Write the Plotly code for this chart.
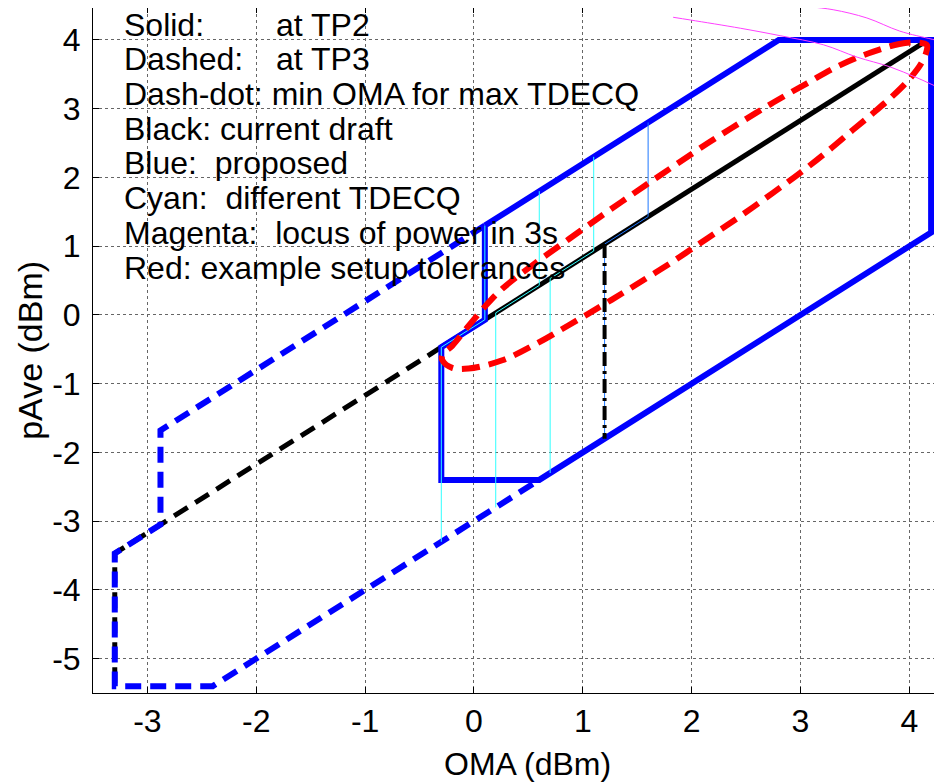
import plotly.graph_objects as go

# ---------------- data ----------------
x_ticks = [-3, -2, -1, 0, 1, 2, 3, 4]
y_ticks = [-5, -4, -3, -2, -1, 0, 1, 2, 3, 4]

# Blue solid (proposed, TP2)
blue_solid_x = [0.1, 2.8, 4.2, 4.2, 0.6, -0.3, -0.3, 0.1, 0.1]
blue_solid_y = [1.3, 4.0, 4.0, 1.2, -2.4, -2.4, -0.47, -0.07, 1.3]

# Blue dashed (proposed, TP3)
blue_dash_x = [0.1, -2.88, -2.88, -3.3, -3.3, -2.4, 0.6]
blue_dash_y = [1.3, -1.68, -3.05, -3.47, -5.4, -5.4, -2.4]

# Black solid (current draft, TP2)
black_solid_x = [-0.3, 4.15]
black_solid_y = [-0.47, 3.98]

# Black dashed (current draft, TP3)
black_dash_x = [-0.3, -3.3, -3.3]
black_dash_y = [-0.47, -3.47, -5.4]

# Black dash-dot (min OMA for max TDECQ)
black_dd_x = [1.2, 1.2]
black_dd_y = [1.03, -1.8]

# Cyan: different TDECQ
cyan1_x = [0.1, 0.1, -0.3, -0.3]
cyan1_y = [1.3, -0.07, -0.47, -3.3]
cyan2_x = [0.6, 0.6, 0.2, 0.2]
cyan2_y = [1.8, 0.43, 0.03, -2.8]
cyan3_x = [1.1, 1.1, 0.7, 0.7]
cyan3_y = [2.3, 0.93, 0.53, -2.3]
ltblue_x = [1.6, 1.6, 1.2, 1.2]
ltblue_y = [2.8, 1.43, 1.03, -1.8]

# Red: example setup tolerances (closed contour)
red_x = [4.16, 3.98, 3.67, 3.36, 3.06, 2.75, 2.45, 2.15, 1.84, 1.57, 1.17, 0.87,
         0.56, 0.26, 0.10, -0.05, -0.20, -0.29, -0.29, -0.20, -0.05, 0.26, 0.56,
         0.87, 1.17, 1.47, 1.84, 2.15, 2.45, 2.75, 3.00, 3.24, 3.48, 3.67, 3.85,
         4.00, 4.11, 4.16, 4.16]
red_y = [3.93, 3.96, 3.83, 3.63, 3.37, 3.09, 2.80, 2.50, 2.17, 1.88, 1.44, 1.10,
         0.75, 0.38, 0.12, -0.16, -0.45, -0.58, -0.66, -0.77, -0.78, -0.66, -0.43,
         -0.15, 0.13, 0.42, 0.79, 1.12, 1.44, 1.78, 2.07, 2.37, 2.69, 2.94, 3.19,
         3.43, 3.66, 3.85, 3.93]

# Magenta: locus of power in 3s
mag1_x = [1.83, 1.99, 2.45, 2.82, 3.21, 3.52, 3.82, 4.07, 4.28, 4.40]
mag1_y = [4.33, 4.29, 4.17, 4.06, 3.93, 3.75, 3.61, 3.45, 3.30, 3.22]
mag2_x = [3.04, 3.30, 3.61, 3.91, 4.21, 4.32]
mag2_y = [4.49, 4.44, 4.32, 4.13, 4.01, 3.97]

legend_lines = ["Solid:", "Dashed:", "Dash-dot: min OMA for max TDECQ",
                "Black: current draft", "Blue:  proposed", "Cyan:  different TDECQ",
                "Magenta:  locus of power in 3s", "Red: example setup tolerances"]
legend_suffix = ["at TP2", "at TP3"]
legend_y = [4.225, 3.72, 3.215, 2.71, 2.205, 1.70, 1.195, 0.69]

x_title = "OMA (dBm)"
y_title = "pAve (dBm)"

# ---------------- figure ----------------
fig = go.Figure()

def add(x, y, color, width, dash="solid", shape="linear"):
    fig.add_trace(go.Scatter(x=x, y=y, mode="lines", showlegend=False,
                             line=dict(color=color, width=width, dash=dash, shape=shape),
                             hoverinfo="skip"))

add(black_dash_x, black_dash_y, "black", 5, "16px,9px")
add(blue_dash_x, blue_dash_y, "#0000ff", 6, "16px,9px")
add(black_solid_x, black_solid_y, "black", 5)
add(blue_solid_x, blue_solid_y, "#0000ff", 6)
add(ltblue_x, ltblue_y, "#1e78ff", 1)
add(cyan1_x, cyan1_y, "#30ffff", 1)
add(cyan2_x, cyan2_y, "#30ffff", 1)
add(cyan3_x, cyan3_y, "#30ffff", 1)
add(black_dd_x, black_dd_y, "black", 4, "14px,5px,3px,5px")
add(red_x, red_y, "#ff0000", 6, "18px,9px", "spline")
add(mag1_x, mag1_y, "#ff40ff", 1, shape="spline")
add(mag2_x, mag2_y, "#ff40ff", 1, shape="spline")
# empty trace so the top (mirrored) tick axis is drawn
fig.add_trace(go.Scatter(x=[], y=[], xaxis="x2", yaxis="y", mode="lines",
                         showlegend=False, hoverinfo="skip"))

font_family = "Liberation Sans, Arial, sans-serif"
annotations = []
for txt, yy in zip(legend_lines, legend_y):
    annotations.append(dict(x=-3.22, y=yy, xref="x", yref="y", text=txt,
                            showarrow=False, xanchor="left", yanchor="middle", borderpad=0,
                            font=dict(size=32, color="black", family=font_family)))
for txt, yy in zip(legend_suffix, legend_y[:2]):
    annotations.append(dict(x=-1.83, y=yy, xref="x", yref="y", text=txt,
                            showarrow=False, xanchor="left", yanchor="middle", borderpad=0,
                            font=dict(size=32, color="black", family=font_family)))
# axis titles
annotations.append(dict(x=0.512, y=-0.104, xref="paper", yref="paper", text=x_title,
                        showarrow=False, xanchor="center", yanchor="middle", borderpad=0,
                        font=dict(size=32, color="black", family=font_family)))
annotations.append(dict(x=-0.075, y=0.50, xref="paper", yref="paper", text=y_title,
                        showarrow=False, xanchor="center", yanchor="middle", textangle=-90,
                        borderpad=0,
                        font=dict(size=34, color="black", family=font_family)))

axis_common = dict(showgrid=True, gridcolor="#666666", griddash="dot", gridwidth=1,
                   zeroline=False, showline=True, linecolor="black", linewidth=1,
                   ticks="inside", ticklen=6, tickcolor="black", automargin=False,
                   tickfont=dict(size=32, color="black", family=font_family))

fig.update_layout(
    width=934, height=776,
    margin=dict(l=85, r=0, t=0, b=91, autoexpand=False),
    paper_bgcolor="white", plot_bgcolor="white",
    font=dict(family=font_family, color="black"),
    xaxis=dict(range=[-3.5, 4.3], tickvals=x_ticks, ticktext=[str(v) for v in x_ticks],
               ticklabelstandoff=0, **axis_common),
    yaxis=dict(range=[-5.5, 4.465], tickvals=y_ticks, ticktext=[str(v) for v in y_ticks],
               ticklabelstandoff=5, **axis_common),
    xaxis2=dict(overlaying="x", matches="x", side="top", anchor="y", range=[-3.5, 4.3],
                tickvals=x_ticks, showticklabels=False, ticks="inside", ticklen=5,
                tickcolor="black", showgrid=False, showline=False, zeroline=False,
                automargin=False),
    annotations=annotations,
)

fig.write_html("out.html")
